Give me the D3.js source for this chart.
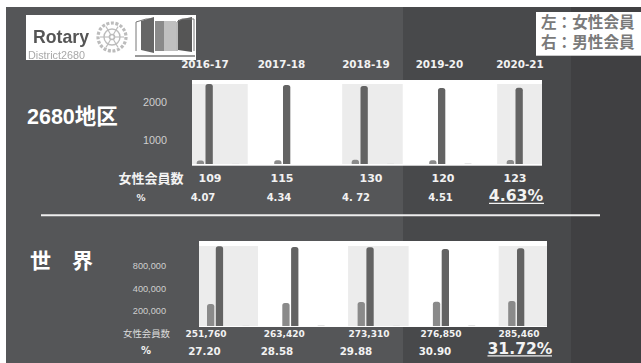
<!DOCTYPE html>
<html lang="ja">
<head>
<meta charset="utf-8">
<script src="https://cdn.jsdelivr.net/npm/d3@7"></script>
<style>
html,body{margin:0;padding:0;background:#fff;overflow:hidden}
svg{display:block}
.cjk{font-family:"Liberation Sans","Noto Sans CJK JP",sans-serif}
.num{font-family:"DejaVu Sans",sans-serif;font-weight:700}
</style>
</head>
<body>
<div id="chart"></div>
<script>
// Membership figures per Rotary year
const years = ["2016-17", "2017-18", "2018-19", "2019-20", "2020-21"];
const seriesNames = ["女性", "男性", "-", "--", "その他"];

const districtWomen = [109, 115, 130, 120, 123];
const districtMen = [2500, 2469, 2438, 2375, 2384];
const districtOther = [20, 0, 30, 30, 0];
const districtWomenLabels = ["109", "115", "130", "120", "123"];
const districtShareLabels = ["4.07", "4.34", "4. 72", "4.51", "4.63%"];
const districtTicks = [2000, 1000];

const worldWomen = [251760, 263420, 273310, 276850, 285460];
const worldMen = [911000, 903000, 900000, 880000, 888000];
const worldOther = [12000, 12000, 12000, 12000, 12000];
const worldWomenLabels = ["251,760", "263,420", "273,310", "276,850", "285,460"];
const worldShareLabels = ["27.20", "28.58", "29.88", "30.90", "31.72%"];
const worldTicks = ["800,000", "400,000", "200,000"];

const W = 641, H = 363;
const svg = d3.select("#chart").append("svg").attr("width", W).attr("height", H);
const defs = svg.append("defs");
defs.append("filter").attr("id", "soft").append("feGaussianBlur").attr("stdDeviation", 0.7);

// Slide background: three vertical tones, inset from the top and left
[[6, 403, "#555658"], [403, 571, "#48494b"], [571, 641, "#404042"]].forEach(([a, b, c]) => {
  svg.append("rect").attr("x", a).attr("y", 7).attr("width", b - a).attr("height", H - 7).attr("fill", c);
});

function label(text, x, y, opts = {}) {
  const t = svg.append("text").text(text).attr("x", x).attr("y", y)
    .attr("class", opts.cls || "num")
    .attr("text-anchor", opts.anchor || "middle")
    .attr("dominant-baseline", "central")
    .attr("font-size", opts.size || 10)
    .attr("fill", opts.fill || "#f2f2f2");
  if (opts.weight) t.attr("font-weight", opts.weight);
  return t;
}

const topRounded = (x, y0, y1, w, r) => {
  const rr = Math.min(r, (y1 - y0));
  return `M${x},${y1}V${y0 + rr}Q${x},${y0} ${x + rr},${y0}H${x + w - rr}Q${x + w},${y0} ${x + w},${y0 + rr}V${y1}Z`;
};

const slots = d3.scaleBand().domain(seriesNames).range([0, 42.5]).paddingInner(0.17).paddingOuter(0);

// One panel: white plate, alternating shaded years, three bar series
function panel(cfg) {
  const { plate, first, step, y, women, men, other, id } = cfg;
  const x = d3.scaleLinear().domain([0, 1]).range([first, first + step]);
  const g = svg.append("g");
  defs.append("clipPath").attr("id", id).append("rect")
    .attr("x", plate.x0).attr("y", plate.y0)
    .attr("width", plate.x1 - plate.x0).attr("height", plate.y1 - plate.y0);

  g.append("rect").attr("x", plate.x0).attr("y", plate.y0)
    .attr("width", plate.x1 - plate.x0).attr("height", plate.y1 - plate.y0).attr("fill", "#fff");

  const inner = g.append("g").attr("clip-path", `url(#${id})`);
  inner.selectAll("rect.shade").data(d3.range(0, years.length, 2)).join("rect")
    .attr("class", "shade")
    .attr("x", i => x(i) - 9.5).attr("width", 60.5)
    .attr("y", cfg.shadeTop).attr("height", cfg.shadeBottom - cfg.shadeTop)
    .attr("fill", "#ececec");

  const bw = slots.bandwidth();
  const draw = (vals, name, fill) => {
    inner.selectAll(`path.s${seriesNames.indexOf(name)}`).data(vals).join("path")
      .attr("class", `s${seriesNames.indexOf(name)}`)
      .attr("fill", fill)
      .attr("d", (v, i) => v > 0 ? topRounded(x(i) + slots(name), y(v), y(0), bw, 2.5) : null);
  };
  draw(other, "その他", "#e4e4e4");
  draw(women, "女性", "#8a8a8a");
  draw(men, "男性", "#636363");
}

// District panel
const yDistrict = d3.scaleLinear().domain([0, 3000]).range([164, 68]);
panel({
  id: "plate-a",
  plate: { x0: 192, x1: 542, y0: 80, y1: 165.7 },
  shadeTop: 84, shadeBottom: 164,
  first: 196.7, step: 77.5, y: yDistrict,
  women: districtWomen, men: districtMen, other: districtOther
});

// World panel
const yWorld = d3.scaleLinear().domain([0, 1000000]).range([326, 238.5]);
panel({
  id: "plate-b",
  plate: { x0: 199, x1: 547, y0: 241, y1: 327 },
  shadeTop: 246, shadeBottom: 326,
  first: 207, step: 75.3, y: yWorld,
  women: worldWomen, men: worldMen, other: worldOther
});

// Tick labels sit in the dark margin beside each plate
const tickDistrict = d3.scaleLinear().domain([1000, 2000]).range([140, 102]);
const axisA = svg.append("g").attr("transform", "translate(167,0)")
  .call(d3.axisLeft(tickDistrict).tickValues(districtTicks).tickFormat(d3.format("d")).tickSize(0).tickPadding(0));
axisA.select(".domain").remove();
axisA.selectAll("text").attr("fill", "#cfcfcf").attr("font-size", 10.8).attr("font-family", "Liberation Sans");

const tickWorld = d3.scalePoint().domain(worldTicks).range([266, 311]);
const axisB = svg.append("g").attr("transform", "translate(166,0)")
  .call(d3.axisLeft(tickWorld).tickSize(0).tickPadding(0));
axisB.select(".domain").remove();
axisB.selectAll("text").attr("fill", "#cfcfcf").attr("font-size", 9.2).attr("font-family", "Liberation Sans");

// Year headers
const yearX = [205, 281.5, 366, 439.5, 520];
years.forEach((d, i) => label(d, yearX[i], 64, { size: 10.4 }));

// Section titles
label("2680地区", 27, 117, { cls: "cjk", anchor: "start", size: 21.5, weight: 700, fill: "#fff" });
label("世\u3000界", 30, 260, { cls: "cjk", anchor: "start", size: 21, weight: 700, fill: "#fff" });

// District rows
label("女性会員数", 151, 178, { cls: "cjk", size: 13, weight: 700 });
const dCountX = [210, 282, 371, 443, 515];
districtWomenLabels.forEach((d, i) => label(d, dCountX[i], 178.5, { size: 11 }));
label("%", 141, 197.5, { size: 9 });
const dShareX = [203, 279, 356, 440.5, 516];
districtShareLabels.forEach((d, i) => {
  const last = i === districtShareLabels.length - 1;
  label(d, dShareX[i], last ? 195.5 : 197.5, { size: last ? 15.7 : 10 });
});
svg.append("line").attr("x1", 489).attr("x2", 544).attr("y1", 203.3).attr("y2", 203.3)
  .attr("stroke", "#f2f2f2").attr("stroke-width", 1.2);

// Divider
svg.append("line").attr("x1", 41).attr("x2", 600).attr("y1", 215.3).attr("y2", 215.3)
  .attr("stroke", "#eeeeee").attr("stroke-width", 2);

// World rows
label("女性会員数", 146.5, 333.5, { cls: "cjk", size: 9.4, fill: "#dddddd" });
const wCountX = [206, 284.3, 369, 441, 519];
worldWomenLabels.forEach((d, i) => label(d, wCountX[i], 333.5, { size: 9 }));
label("%", 146, 350.7, { size: 10 });
const wShareX = [204.5, 277, 356, 435, 520];
worldShareLabels.forEach((d, i) => {
  const last = i === worldShareLabels.length - 1;
  label(d, wShareX[i], last ? 349 : 350.7, { size: last ? 15.6 : 10.3 });
});
svg.append("line").attr("x1", 487.5).attr("x2", 552).attr("y1", 355.8).attr("y2", 355.8)
  .attr("stroke", "#f2f2f2").attr("stroke-width", 1.2);

// Legend note
svg.append("rect").attr("x", 536).attr("y", 12).attr("width", 105).attr("height", 43.7).attr("fill", "#fff");
label("左：女性会員", 541, 22, { cls: "cjk", anchor: "start", size: 15.6, weight: 700, fill: "#7a7a7a" });
label("右：男性会員", 541, 42.5, { cls: "cjk", anchor: "start", size: 15.6, weight: 700, fill: "#7a7a7a" });

// District logo block
svg.append("rect").attr("x", 26).attr("y", 15).attr("width", 170).attr("height", 45).attr("fill", "#fff");
const logo = svg.append("g").attr("filter", "url(#soft)");
logo.append("text").text("Rotary").attr("x", 33).attr("y", 43)
  .attr("font-family", "Liberation Sans").attr("font-weight", 700).attr("font-size", 17.7).attr("fill", "#555");
logo.append("text").text("District2680").attr("x", 28).attr("y", 59)
  .attr("font-family", "Liberation Sans").attr("font-size", 10.8).attr("fill", "#a8a8a8");
const wheel = logo.append("g").attr("transform", "translate(112,37)").attr("fill", "none").attr("stroke", "#bcbcbc");
wheel.append("circle").attr("r", 14).attr("stroke-width", 3.2).attr("stroke-dasharray", "3 1.6");
wheel.append("circle").attr("r", 8).attr("stroke-width", 1.4);
wheel.append("circle").attr("r", 2.5).attr("stroke-width", 1.6);
d3.range(6).forEach(k => {
  const a = k * Math.PI / 3;
  wheel.append("line").attr("x1", 2.5 * Math.cos(a)).attr("y1", 2.5 * Math.sin(a))
    .attr("x2", 12 * Math.cos(a)).attr("y2", 12 * Math.sin(a)).attr("stroke-width", 1.1);
});
// Two open doors with a lighter gap between them
const doors = logo.append("g");
doors.append("path").attr("d", "M136,51V22L146,19H150V50").attr("fill", "none").attr("stroke", "#777").attr("stroke-width", 1);
doors.append("path").attr("d", "M141,21L154,17V53L141,50Z").attr("fill", "#666");
doors.append("rect").attr("x", 155).attr("y", 21).attr("width", 9).attr("height", 30).attr("fill", "#8a8a8a");
doors.append("rect").attr("x", 164).attr("y", 21).attr("width", 12).attr("height", 30).attr("fill", "#c0c0c0");
doors.append("path").attr("d", "M178,20L192,17V52L178,50Z").attr("fill", "#555");
doors.append("path").attr("d", "M177,51V22L182,19H194V51").attr("fill", "none").attr("stroke", "#777").attr("stroke-width", 1);
doors.append("rect").attr("x", 135).attr("y", 55).attr("width", 60).attr("height", 2).attr("fill", "#999");
</script>
</body>
</html>
